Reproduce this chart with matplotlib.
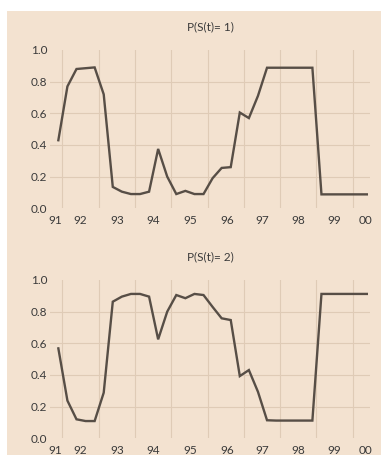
import numpy as np
import matplotlib
matplotlib.use("Agg")
import matplotlib.pyplot as plt
from matplotlib.patches import Rectangle

plt.rcParams['font.family'] = ['Lato', 'DejaVu Sans']

# quarterly smoothed state probabilities, 35 quarters
p_state1 = [0.43, 0.77, 0.88, 0.885, 0.89, 0.72, 0.135, 0.105, 0.09, 0.09,
            0.105, 0.375, 0.20, 0.09, 0.11, 0.09, 0.09, 0.19, 0.255, 0.26,
            0.605, 0.57, 0.71, 0.888, 0.888, 0.888, 0.888, 0.888, 0.888,
            0.088, 0.088, 0.088, 0.088, 0.088, 0.088]
p_state2 = [0.568, 0.238, 0.12, 0.109, 0.109, 0.288, 0.863, 0.895, 0.912, 0.912,
            0.895, 0.625, 0.80, 0.905, 0.885, 0.912, 0.905, 0.83, 0.758, 0.747,
            0.393, 0.431, 0.294, 0.114, 0.112, 0.112, 0.112, 0.112, 0.112,
            0.912, 0.912, 0.912, 0.912, 0.912, 0.912]
titles = ['P(S(t)= 1)', 'P(S(t)= 2)']

year_labels = ['91', '92', '93', '94', '95', '96', '97', '98', '99', '00']
year_label_pos = [-0.3, 2.45, 6.5, 10.45, 14.5, 18.6, 22.5, 26.4, 30.4, 33.9]
year_grid_pos = [0.45 + 4 * k for k in range(9)]

bg = '#f3e2d0'
grid_col = '#dfcbb6'
line_col = '#574e46'
text_col = '#3a3a3a'

fig = plt.figure(figsize=(3.81, 4.62), dpi=100, facecolor='white')
fig.patches.append(Rectangle((7 / 381, 1 - 455 / 462), 374 / 381, 444 / 462,
                             transform=fig.transFigure, facecolor=bg,
                             edgecolor='none', zorder=-10))

W, H = 381, 462
boxes = [(50, 50, 370, 208.3), (50, 280, 370, 438.3)]
x = np.arange(len(p_state1))

for (l, t, r, b), vals, title in zip(boxes, [p_state1, p_state2], titles):
    ax = fig.add_axes([l / W, 1 - b / H, (r - l) / W, (b - t) / H])
    ax.set_facecolor('none')
    for gx in year_grid_pos:
        ax.axvline(gx, color=grid_col, lw=0.8, zorder=1)
    for gy in [0.2, 0.4, 0.6, 0.8]:
        ax.axhline(gy, color=grid_col, lw=0.8, zorder=1)
    ax.plot(x, vals, color=line_col, lw=1.7, zorder=3, solid_joinstyle='miter')
    ax.set_xlim(-0.92, 34.35)
    ax.set_ylim(0, 1)
    ax.set_yticks([0, 0.2, 0.4, 0.6, 0.8, 1.0])
    ax.set_yticklabels(['0.0', '0.2', '0.4', '0.6', '0.8', '1.0'])
    ax.set_xticks(year_label_pos)
    ax.set_xticklabels(year_labels)
    ax.tick_params(length=0, labelsize=8.5, colors=text_col)
    ax.tick_params(axis='y', pad=2)
    ax.tick_params(axis='x', pad=4.5)
    for s in ax.spines.values():
        s.set_visible(False)
    ax.set_title(title, fontsize=8.5, color=text_col, pad=14.5)

fig.savefig('out.png', dpi=100, facecolor='white')
